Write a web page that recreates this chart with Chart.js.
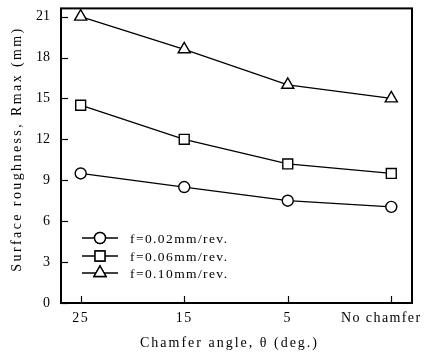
<!DOCTYPE html>
<html>
<head>
<meta charset="utf-8">
<script src="https://cdn.jsdelivr.net/npm/chart.js@4.4.1/dist/chart.umd.min.js"></script>
<style>
  html, body { margin: 0; padding: 0; background: #fff; }
  #wrap { width: 424px; height: 356px; }
</style>
</head>
<body>
<div id="wrap"><canvas id="roughChart" width="424" height="356"></canvas></div>
<script>
// chamfer angle categories along the x axis
const chamferLabels = ["25", "15", "5", "No chamfer"];
const yTicks = [0, 3, 6, 9, 12, 15, 18, 21];

// Rmax for each feed rate
const feed002 = [9.5, 8.5, 7.5, 7.05];
const feed006 = [14.5, 12.0, 10.2, 9.5];
const feed010 = [21.0, 18.6, 16.0, 15.0];

const seriesNames = ["f=0.02mm/rev.", "f=0.06mm/rev.", "f=0.10mm/rev."];
const serif = "'Liberation Serif', 'Times New Roman', serif";

function toPoints(arr) {
    return arr.map((v, i) => ({ x: i, y: v }));
}

function makeSet(label, values, shape, r) {
    return {
        label: label,
        data: toPoints(values),
        borderColor: "#000",
        borderWidth: 1.3,
        pointStyle: shape,
        pointRadius: r,
        pointBorderWidth: 1.4,
        pointBorderColor: "#000",
        pointBackgroundColor: "#fff",
        tension: 0
    };
}

// frame, inward tick marks, x labels, axis titles and the legend box
const framePlugin = {
    id: "frame",
    afterDraw(chart) {
        let ctx = chart.ctx;
        let area = chart.chartArea;
        let xs = chart.scales.x;
        let ys = chart.scales.y;
        ctx.save();
        ctx.strokeStyle = "#000";
        ctx.lineWidth = 2;
        ctx.strokeRect(area.left, area.top, area.right - area.left, area.bottom - area.top);

        ctx.lineWidth = 1.2;
        yTicks.forEach((t) => {
            let py = Math.round(ys.getPixelForValue(t)) + 0.5;
            ctx.beginPath();
            ctx.moveTo(area.left, py);
            ctx.lineTo(area.left + 7, py);
            ctx.stroke();
        });
        chamferLabels.forEach((l, i) => {
            let px = Math.round(xs.getPixelForValue(i)) + 0.5;
            ctx.beginPath();
            ctx.moveTo(px, area.bottom);
            ctx.lineTo(px, area.bottom - 7);
            ctx.stroke();
        });

        // x tick labels (last one sits left of its tick)
        ctx.fillStyle = "#000";
        ctx.font = "14px " + serif;
        ctx.textBaseline = "middle";
        ctx.letterSpacing = "1.4px";
        chamferLabels.forEach((l, i) => {
            let px = xs.getPixelForValue(i);
            ctx.textAlign = "center";
            if (i == chamferLabels.length - 1) px -= 10;
            ctx.fillText(l, px, 318);
        });

        // axis titles
        ctx.textAlign = "center";
        ctx.letterSpacing = "2px";
        ctx.fillText("Chamfer angle, \u03b8 (deg.)", (area.left + area.right) / 2 - 7, 343);
        ctx.save();
        ctx.translate(17, 149);
        ctx.rotate(-Math.PI / 2);
        ctx.letterSpacing = "2.4px";
        ctx.fillText("Surface roughness, Rmax (mm)", 0, 0);
        ctx.restore();

        // legend
        ctx.font = "13.5px " + serif;
        ctx.letterSpacing = "1.4px";
        ctx.textAlign = "left";
        let rows = [238, 256, 273];
        chart.data.datasets.forEach((ds, i) => {
            let y = rows[i];
            ctx.beginPath();
            ctx.lineWidth = 1.3;
            ctx.moveTo(82, y);
            ctx.lineTo(118, y);
            ctx.stroke();
            ctx.lineWidth = 1.4;
            Chart.helpers.drawPoint(ctx, {
                pointStyle: ds.pointStyle,
                radius: ds.pointRadius,
                borderWidth: 1.4,
                rotation: 0
            }, 100, y);
            ctx.fillStyle = "#fff";
            ctx.fill();
            ctx.stroke();
            ctx.fillStyle = "#000";
            ctx.fillText(seriesNames[i], 130, y + 1);
        });
        ctx.restore();
    }
};

let ctx = document.getElementById("roughChart").getContext("2d");
let roughChart = new Chart(ctx, {
    type: "line",
    data: {
        datasets: [
            makeSet(seriesNames[0], feed002, "circle", 5.5),
            makeSet(seriesNames[1], feed006, "rect", 7),
            makeSet(seriesNames[2], feed010, "triangle", 7)
        ]
    },
    options: {
        responsive: false,
        animation: false,
        devicePixelRatio: 1,
        layout: { padding: { left: 0, right: 12, top: 6, bottom: 0 } },
        plugins: {
            legend: { display: false },
            tooltip: { enabled: false }
        },
        scales: {
            x: {
                type: "linear",
                min: -0.19,
                max: 3.2,
                afterBuildTicks: (axis) => {
                    axis.ticks = chamferLabels.map((l, i) => ({ value: i }));
                },
                ticks: { display: false },
                grid: { display: false, drawTicks: false },
                border: { display: false },
                afterFit: (axis) => {
                    axis.height = 53;
                    axis.paddingLeft = 0;
                    axis.paddingRight = 0;
                }
            },
            y: {
                min: 0,
                max: 21.6,
                afterBuildTicks: (axis) => {
                    axis.ticks = yTicks.map((v) => ({ value: v }));
                },
                ticks: {
                    color: "#000",
                    font: { family: serif, size: 14 },
                    padding: 11
                },
                grid: { display: false, drawTicks: false },
                border: { display: false },
                afterFit: (axis) => {
                    axis.width = 61;
                    axis.paddingTop = 0;
                    axis.paddingBottom = 0;
                }
            }
        }
    },
    plugins: [framePlugin]
});
</script>
</body>
</html>
